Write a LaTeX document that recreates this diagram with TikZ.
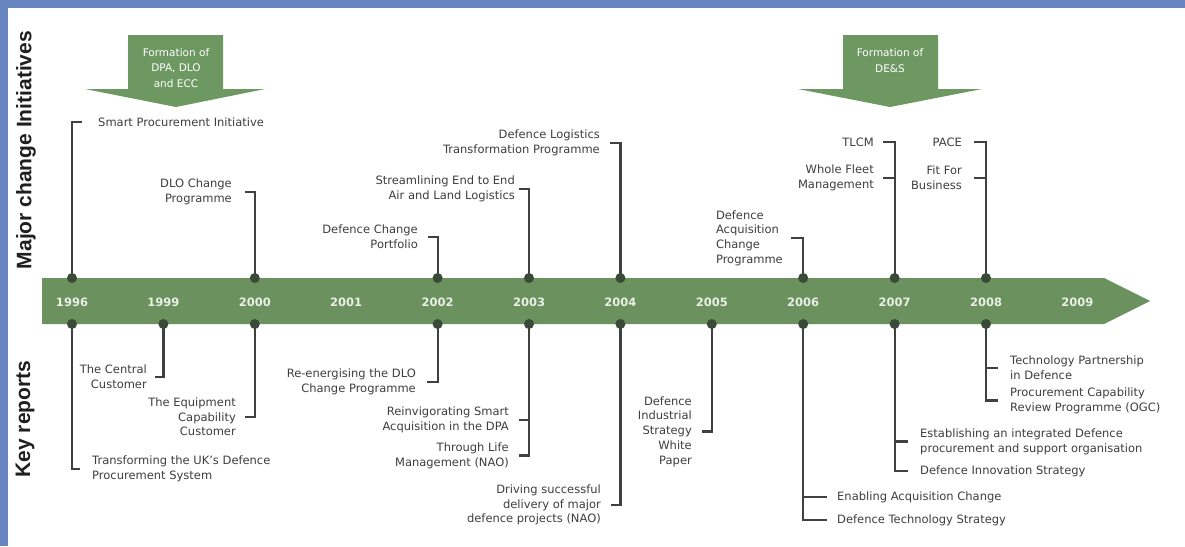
\documentclass[tikz,border=0pt]{standalone}
\usepackage{fontspec}
\setmainfont{DejaVu Sans}
\newfontfamily\sidefont{Liberation Sans}
\definecolor{bandgreen}{RGB}{106,145,94}
\definecolor{arrowgreen}{RGB}{110,152,98}
\definecolor{dotc}{RGB}{58,74,56}
\definecolor{linec}{RGB}{64,64,64}
\definecolor{txt}{RGB}{62,62,62}
\definecolor{framec}{RGB}{103,133,190}
\definecolor{yeartxt}{RGB}{234,240,230}
\pgfdeclarelayer{bg}
\pgfdeclarelayer{mid}
\pgfsetlayers{bg,mid,main}
\begin{document}
\begin{tikzpicture}[x=1pt,y=-1pt,
  lbl/.style={font=\fontsize{11.5}{14.7}\selectfont, text=txt, inner xsep=#1, inner ysep=0pt},
  lbl/.default=11pt,
  lblR/.style={lbl=#1, anchor=east, align=right},
  lblR/.default=11pt,
  lblL/.style={lbl=#1, anchor=west, align=left},
  lblL/.default=11pt,
  conn/.style={draw=linec, line width=2.2pt},
  dotn/.style={circle, fill=dotc, minimum size=10pt, inner sep=0pt},
  year/.style={font=\bfseries\fontsize{11.5}{12}\selectfont, text=yeartxt},
  side/.style={font=\sidefont\bfseries\fontsize{21}{24}\selectfont, rotate=90, text=black!88},
  formtxt/.style={font=\fontsize{10.5}{15.2}\selectfont, text=white, align=center}]

\useasboundingbox (0,0) rectangle (1185,546);
\begin{pgfonlayer}{bg}
\fill[white] (0,0) rectangle (1185,546);
\fill[framec] (0,0) rectangle (1185,8);
\fill[framec] (0,0) rectangle (8,546);
% timeline band
\fill[bandgreen] (42,278) -- (1104,278) -- (1150,301) -- (1104,324) -- (42,324) -- cycle;
% formation arrows
\fill[arrowgreen] (128,35) -- (223,35) -- (223,89) -- (265,89) -- (176,107) -- (85,89) -- (128,89) -- cycle;
\fill[arrowgreen] (843,35) -- (938,35) -- (938,89) -- (982,89) -- (890,107) -- (798,89) -- (843,89) -- cycle;
\end{pgfonlayer}

\node[formtxt] (form1) at (176,68) {Formation of\\DPA, DLO\\and ECC};
\node[formtxt] (form2) at (890,60.5) {Formation of\\DE\&S};

% side titles
\node[side] (major) at (26,150) {Major change Initiatives};
\node[side] (keyrep) at (25,419) {Key reports};

% years
\foreach \yr [count=\i from 0] in {1996,1999,2000,2001,2002,2003,2004,2005,2006,2007,2008,2009}
  \node[year] (y\yr) at ({72+91.4*\i},302) {\yr};

% dots top
\node[dotn] (t96) at (72,278) {};
\node[dotn] (t00) at (254.8,278) {};
\node[dotn] (t02) at (437.6,278) {};
\node[dotn] (t03) at (529,278) {};
\node[dotn] (t04) at (620.4,278) {};
\node[dotn] (t06) at (803.2,278) {};
\node[dotn] (t07) at (894.6,278) {};
\node[dotn] (t08) at (986,278) {};
% dots bottom
\node[dotn] (b96) at (72,324) {};
\node[dotn] (b99) at (163.4,324) {};
\node[dotn] (b00) at (254.8,324) {};
\node[dotn] (b02) at (437.6,324) {};
\node[dotn] (b03) at (529,324) {};
\node[dotn] (b04) at (620.4,324) {};
\node[dotn] (b05) at (711.8,324) {};
\node[dotn] (b06) at (803.2,324) {};
\node[dotn] (b07) at (894.6,324) {};
\node[dotn] (b08) at (986,324) {};

% top labels
\node[lblL=16pt] (spi) at (82,122) {Smart Procurement Initiative};
\node[lblR=13pt] (dlo) at (245,192) {DLO Change\\Programme};
\node[lblR=10pt] (dcp) at (428,237) {Defence Change\\Portfolio};
\node[lblR=4pt] (se2e) at (519,189) {Streamlining End to End\\Air and Land Logistics};
\node[lblR=10pt] (dltp) at (610,143) {Defence Logistics\\Transformation Programme};
\node[lblR=8pt, align=left] (dacp) at (791,238) {Defence\\Acquisition\\Change\\Programme};
\node[lblR=9pt] (tlcm) at (883,142) {TLCM};
\node[lblR=9pt] (wfm) at (883,178) {Whole Fleet\\Management};
\node[lblR=12pt] (pace) at (974,142) {PACE};
\node[lblR=12pt] (ffb) at (974,178) {Fit For\\Business};

% bottom labels
\node[lblL=12pt] (tuk) at (80,469) {Transforming the UK's Defence\\Procurement System};
\node[lblR=8pt] (tcc) at (155,377) {The Central\\Customer};
\node[lblR=9pt] (tecc) at (245,417) {The Equipment\\Capability\\Customer};
\node[lblR=11pt] (redlo) at (427,382) {Re-energising the DLO\\Change Programme};
\node[lblR=10pt] (rsa) at (519,420) {Reinvigorating Smart\\Acquisition in the DPA};
\node[lblR=10pt] (tlm) at (519,455.5) {Through Life\\Management (NAO)};
\node[lblR=10pt] (dsd) at (611,505) {Driving successful\\delivery of major\\defence projects (NAO)};
\node[lblR=10pt] (disw) at (702,431.5) {Defence\\Industrial\\Strategy\\White\\Paper};
\node[lblL=10pt] (eac) at (827,497) {Enabling Acquisition Change};
\node[lblL=10pt] (dts) at (827,520) {Defence Technology Strategy};
\node[lblL=12pt] (eid) at (908,441.5) {Establishing an integrated Defence\\procurement and support organisation};
\node[lblL=12pt] (dis) at (908,471) {Defence Innovation Strategy};
\node[lblL=12pt] (tpd) at (998,368) {Technology Partnership\\in Defence};
\node[lblL=12pt] (pcrp) at (998,400.5) {Procurement Capability\\Review Programme (OGC)};

% connectors
\begin{pgfonlayer}{mid}
\draw[conn] (t96.center) |- (spi.west);
\draw[conn] (t00.center) |- (dlo.east);
\draw[conn] (t02.center) |- (dcp.east);
\draw[conn] (t03.center) |- (se2e.east);
\draw[conn] (t04.center) |- (dltp.east);
\draw[conn] (t06.center) |- (dacp.east);
\draw[conn] (t07.center) |- (tlcm.east);
\draw[conn] (t07.center |- wfm.east) -- (wfm.east);
\draw[conn] (t08.center) |- (pace.east);
\draw[conn] (t08.center |- ffb.east) -- (ffb.east);

\draw[conn] (b96.center) |- (tuk.west);
\draw[conn] (b99.center) |- (tcc.east);
\draw[conn] (b00.center) |- (tecc.east);
\draw[conn] (b02.center) |- (redlo.east);
\draw[conn] (b03.center) |- (tlm.east);
\draw[conn] (b03.center |- rsa.east) -- (rsa.east);
\draw[conn] (b04.center) |- (dsd.east);
\draw[conn] (b05.center) |- (disw.east);
\draw[conn] (b06.center) |- (dts.west);
\draw[conn] (b06.center |- eac.west) -- (eac.west);
\draw[conn] (b07.center) |- (dis.west);
\draw[conn] (b07.center |- eid.west) -- (eid.west);
\draw[conn] (b08.center) |- (pcrp.west);
\draw[conn] (b08.center |- tpd.west) -- (tpd.west);
\end{pgfonlayer}
\end{tikzpicture}
\end{document}
